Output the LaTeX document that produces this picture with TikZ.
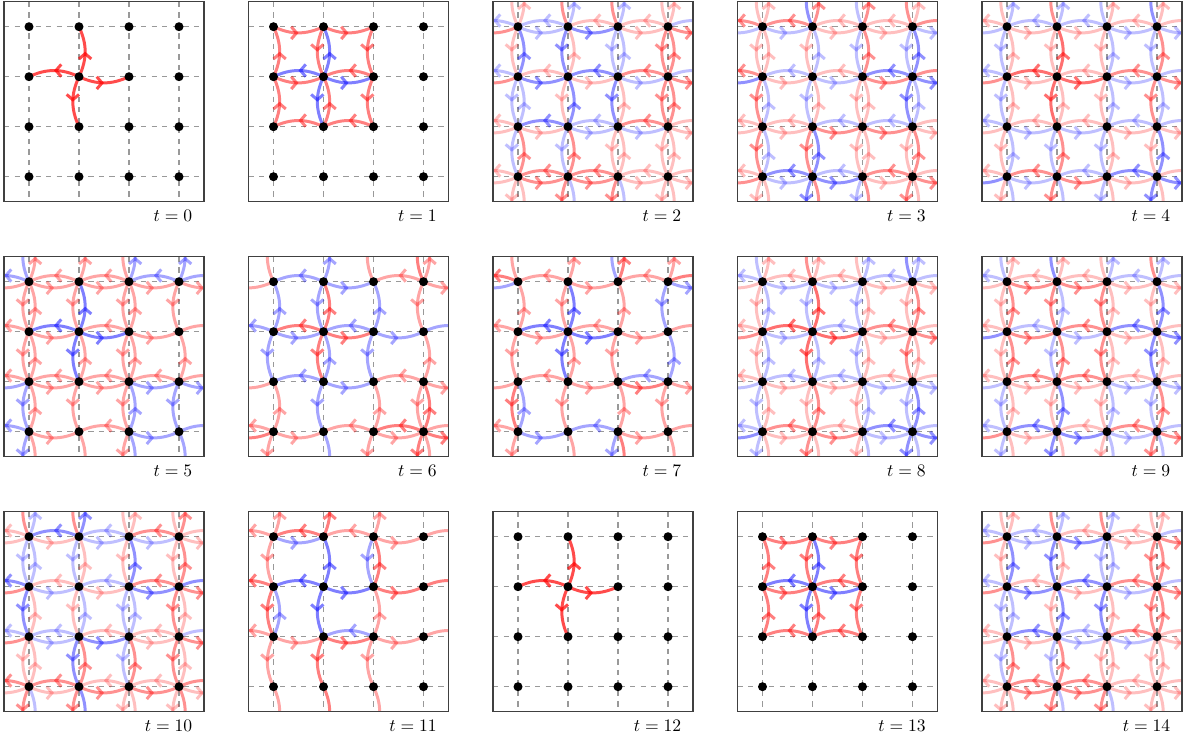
\documentclass[tikz,border=0pt]{standalone}
\usepackage{xfp}
\usepackage{tikz}
\usetikzlibrary{arrows.meta,decorations.markings}

% amplitudes live on arcs qa<x>-<y>-<d>, d = 0 R, 1 U, 2 L, 3 D
\newcommand\facefix[1]{\expandafter\xdef\csname qa#1\endcsname{\fpeval{\wsum-(\csname qa#1\endcsname)}}}
\newcommand\walkstep{%
  % reflection at the tail vertex
  \foreach \x in {0,...,3}{\foreach \y in {0,...,3}{%
    \xdef\wsum{\fpeval{((\csname qa\x-\y-0\endcsname)+(\csname qa\x-\y-1\endcsname)+(\csname qa\x-\y-2\endcsname)+(\csname qa\x-\y-3\endcsname))/2}}%
    \foreach \d in {0,...,3}{\facefix{\x-\y-\d}}}}%
  % reflection at the face on the right
  \foreach \x in {0,...,3}{\foreach \y in {0,...,3}{%
    \edef\xp{\the\numexpr\ifnum\x=3 0\else\x+1\fi\relax}%
    \edef\yp{\the\numexpr\ifnum\y=3 0\else\y+1\fi\relax}%
    \xdef\wsum{\fpeval{((\csname qa\x-\y-0\endcsname)+(\csname qa\xp-\y-3\endcsname)+(\csname qa\xp-\yp-2\endcsname)+(\csname qa\x-\yp-1\endcsname))/2}}%
    \facefix{\x-\y-0}\facefix{\xp-\y-3}\facefix{\xp-\yp-2}\facefix{\x-\yp-1}}}%
}
\newcommand\wrapcopy{%
  \edef\xs{\the\numexpr\x-4*\dx+1\relax}\edef\ys{\the\numexpr\y-4*\dy+1\relax}%
  \edef\xe{\the\numexpr\x-3*\dx+1\relax}\edef\ye{\the\numexpr\y-3*\dy+1\relax}%
  \draw[amp, draw=\ac, draw opacity=\op] (q\p-\xs-\ys) to (q\p-\xe-\ye);}
\newcommand\walkarc{%
  \edef\av{\csname qa\x-\y-\d\endcsname}%
  \ifnum\fpeval{abs(\av)>0.002}=1
    \edef\op{\fpeval{round(sqrt(abs(\av)),3)}}%
    \ifnum\fpeval{\av>0}=1 \def\ac{red}\else\def\ac{blue}\fi
    \ifcase\d \def\dx{1}\def\dy{0}\or\def\dx{0}\def\dy{-1}\or\def\dx{-1}\def\dy{0}\or\def\dx{0}\def\dy{1}\fi
    \edef\xs{\the\numexpr\x+1\relax}\edef\ys{\the\numexpr\y+1\relax}%
    \edef\xe{\the\numexpr\x+\dx+1\relax}\edef\ye{\the\numexpr\y+\dy+1\relax}%
    \draw[amp, draw=\ac, draw opacity=\op] (q\p-\xs-\ys) to (q\p-\xe-\ye);
    \ifnum\xe=0 \wrapcopy\fi
    \ifnum\xe=5 \wrapcopy\fi
    \ifnum\ye=0 \wrapcopy\fi
    \ifnum\ye=5 \wrapcopy\fi
  \fi}

\begin{document}
\begin{tikzpicture}[
  dot/.style={circle, fill=black, inner sep=0pt, minimum size=1.8mm},
  gridln/.style={dashed, black!40, line width=0.6pt},
  frame/.style={draw=black!75, line width=0.6pt},
  tlabel/.style={anchor=east, inner sep=0pt},
  amp/.style={line width=1.7pt, bend right=25,
              postaction={decorate, decoration={markings,
                mark=at position 0.5 with {\arrow{Straight Barb[length=3pt,width=7pt]}}}}}
]
\useasboundingbox (0,0) rectangle (23.66,-14.72);
% start: uniform on the four arcs leaving (1,1)
\foreach \x in {0,...,3}\foreach \y in {0,...,3}\foreach \d in {0,...,3}
  {\expandafter\xdef\csname qa\x-\y-\d\endcsname{0}}
\foreach \d in {0,...,3}{\expandafter\xdef\csname qa1-1-\d\endcsname{0.5}}
% one panel per time step
\foreach \p in {0,...,14}{
  \pgfmathsetmacro\ox{0.08+4.89*mod(\p,5)}
  \pgfmathsetmacro\oy{-0.034-5.1*int(\p/5)}
  \begin{scope}[shift={(\ox,\oy)}]
    \foreach \i in {0,...,5}\foreach \j in {0,...,5}\coordinate (q\p-\i-\j) at (\i-0.5,0.5-\j);
    \begin{scope}
      \clip (0,0) rectangle (4,-4);
      \foreach \k in {1,...,4}{
        \draw[gridln] (\k-0.5,0) -- (\k-0.5,-4);
        \draw[gridln] (0,0.5-\k) -- (4,0.5-\k);
      }
      \foreach \x in {0,...,3}\foreach \y in {0,...,3}\foreach \d in {0,...,3}{\walkarc}
    \end{scope}
    \draw[frame] (0,0) rectangle (4,-4);
    \foreach \i in {1,...,4}\foreach \j in {1,...,4}\node[dot] (n\p-\i-\j) at (q\p-\i-\j) {};
    \node[tlabel] (t\p) at (3.77,-4.28) {$t=\p$};
  \end{scope}
  \walkstep
}
\end{tikzpicture}
\end{document}
